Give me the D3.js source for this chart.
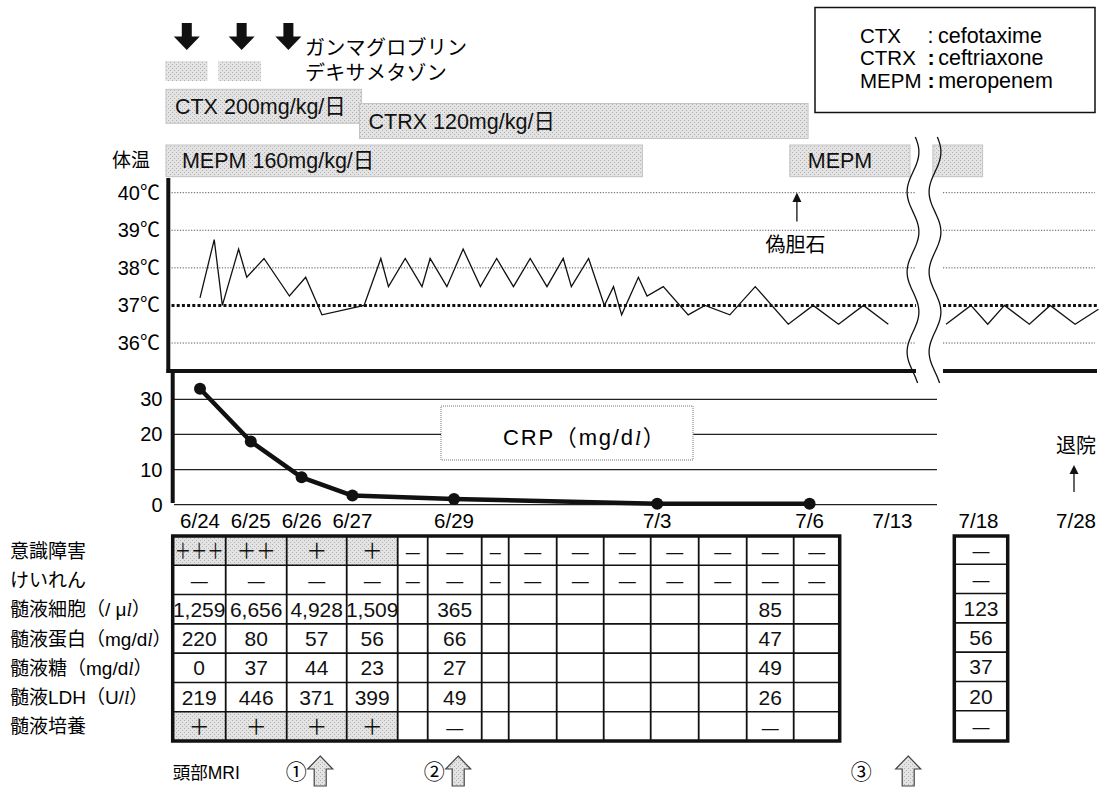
<!DOCTYPE html>
<html><head><meta charset="utf-8">
<script src="https://cdn.jsdelivr.net/npm/d3@7"></script>
<style>
body{margin:0;background:#fff;}
svg{display:block;font-family:'Liberation Sans','Noto Sans CJK JP',sans-serif;}
</style></head><body>
<svg id="c" width="1105" height="790"></svg>
<script>
// ================= DATA =================
const crpDates = ["6/24","6/25","6/26","6/27","6/29","7/3","7/6"];
const crpValues = [33, 18, 7.8, 2.6, 1.6, 0.3, 0.3];
const crpTicks = [0, 10, 20, 30];
const dateLabels = ["6/24","6/25","6/26","6/27","6/29","7/3","7/6","7/13","7/18","7/28"];
const tempTicks = [36, 37, 38, 39, 40];
// body temperature: day offset from 6/24 (fractional) and °C
const tempDays = [0,0.28,0.44,0.76,0.92,1.26,1.76,2.08,2.4,3.23,3.56,3.71,4.04,4.37,4.53,4.86,5.18,5.52,5.84,6.17,6.5,6.83,7.15,7.31,7.65,7.96,8.14,8.3,8.63,8.8,9.12,9.61,9.94,10.43,10.93,11.58,12.07,12.57,13.06,13.55];
const tempValues = [37.2,38.75,37.0,38.5,37.75,38.25,37.25,37.75,36.75,37.0,38.25,37.5,38.25,37.5,38.25,37.5,38.5,37.5,38.25,37.5,38.25,37.5,38.25,37.5,38.25,37.0,37.5,36.75,37.75,37.25,37.5,36.75,37.0,36.75,37.5,36.5,37.0,36.5,37.0,36.5];
// after the axis break (days from start of the later segment)
const tempDaysLate = [0.06,0.55,0.88,1.21,1.70,2.11,2.60,3.06];
const tempValuesLate = [36.5,37.0,36.5,37.0,36.5,37.0,36.5,36.9];
// treatments (day offsets)
const gammaDays = [-0.26, 0.82, 1.74];
const gammaLabel = "ガンマグロブリン";
const dexaStarts = [-0.69, 0.36];
const dexaEnds = [0.15, 1.2];
const dexaLabel = "デキサメタゾン";
const drugNames = ["CTX 200mg/kg/日", "CTRX 120mg/kg/日", "MEPM 160mg/kg/日", "MEPM"];
const drugLanes = ["CTX", "CTRX", "MEPM", "MEPM"];
const drugStarts = [-0.67, 3.14, -0.67, 11.61];
const drugEnds = [3.18, 11.97, 8.71, 13.98];
const drugLateStart = -0.2, drugLateEnd = 0.78; // MEPM continued after break
const legendAbbr = ["CTX", "CTRX", "MEPM"];
const legendName = ["cefotaxime", "ceftriaxone", "meropenem"];
const pseudoLithDay = 11.75;
const pseudoLithLabel = "偽胆石";
const dischargeDate = "7/28";
const dischargeLabel = "退院";
// table
const tableDates = ["6/24","6/25","6/26","6/27","6/28","6/29","6/30","7/1","7/2","7/3","7/4","7/5","7/6","7/7"];
const rowLabels = ["意識障害","けいれん","髄液細胞（/ μl）","髄液蛋白（mg/dl）","髄液糖（mg/dl）","髄液LDH（U/l）","髄液培養"];
const consciousness = ["+++","++","+","+","-","-","-","-","-","-","-","-","-","-"];
const convulsion = ["-","-","-","-","-","-","-","-","-","-","-","-","-","-"];
const csfCells = ["1,259","6,656","4,928","1,509","","365","","","","","","","85",""];
const csfProtein = ["220","80","57","56","","66","","","","","","","47",""];
const csfGlucose = ["0","37","44","23","","27","","","","","","","49",""];
const csfLDH = ["219","446","371","399","","49","","","","","","","26",""];
const csfCulture = ["+","+","+","+","","-","","","","","","","-",""];
const lateDate = "7/18";
const lateColumn = ["-","-","123","56","37","20","-"];
const mriLabel = "頭部MRI";
const mriMarks = ["①","②","③"];
const mriDates = ["6/26","6/29","7/14"];

// ================= LAYOUT =================
const svg = d3.select("#c");
const defs = svg.append("defs");
const pat = defs.append("pattern").attr("id","tone").attr("width",4).attr("height",4).attr("patternUnits","userSpaceOnUse");
pat.append("rect").attr("width",4).attr("height",4).attr("fill","#e3e3e3");
pat.append("rect").attr("x",0).attr("y",0).attr("width",1).attr("height",1).attr("fill","#b0b0b0");
pat.append("rect").attr("x",2).attr("y",2).attr("width",1).attr("height",1).attr("fill","#b0b0b0");

const parse = d3.timeParse("%Y/%m/%d");
const day0 = parse("2000/6/24");
const dayOf = s => d3.timeDay.count(day0, parse("2000/" + s));

const x = d3.scaleLinear().domain([0, 12]).range([200, 809.6]);
const xLate = d3.scaleLinear().domain([0, 1]).range([943, 993.8]);
const xLabel = d3.scaleLinear().domain([0, 12, 19, 24, 34]).range([200, 809.6, 892.5, 978.5, 1076]);
const yT = d3.scaleLinear().domain([36, 40]).range([343, 192.7]);
const yC = d3.scaleLinear().domain([0, 30]).range([504.7, 399.3]);

const BREAK_L = 916, BREAK_R = 943;

function richText(sel, str){
  const parts = str.split(/(l(?=）))/);
  parts.forEach(p => {
    if (p === "l") sel.append("tspan").attr("font-family","'Liberation Serif',serif").attr("font-style","italic").text("l");
    else if (p) sel.append("tspan").text(p);
  });
}

// ---------- top: gamma globulin arrows & dexamethasone ----------
const gTop = svg.append("g");
gTop.selectAll("path.gg").data(gammaDays).join("path")
  .attr("d", d => { const c = x(d); return `M${c-5},23 L${c+5},23 L${c+5},36.5 L${c+13},36.5 L${c},50 L${c-13},36.5 L${c-5},36.5 Z`; })
  .attr("fill", "#111");
gTop.append("text").attr("x", 305).attr("y", 55).attr("font-size", 20).attr("letter-spacing", 0.3).text(gammaLabel);
gTop.selectAll("rect.dx").data(dexaStarts).join("rect")
  .attr("x", d => x(d)).attr("width", (d,i) => x(dexaEnds[i]) - x(d))
  .attr("y", 61).attr("height", 20).attr("fill", "url(#tone)");
gTop.append("text").attr("x", 305).attr("y", 80).attr("font-size", 20).attr("letter-spacing", 0.3).text(dexaLabel);

// ---------- antibiotic bars ----------
const laneY = {CTX: [89.3, 34], CTRX: [103.5, 35], MEPM: [145, 31.7]};
const labelDx = [9, 9, 16, 18];
const labelBase = {CTX: 114, CTRX: 129, MEPM: 168};
const gDrug = svg.append("g");
drugNames.forEach((nm, i) => {
  const lane = drugLanes[i];
  gDrug.append("rect")
    .attr("x", x(drugStarts[i])).attr("width", Math.min(x(drugEnds[i]), 910) - x(drugStarts[i]))
    .attr("y", laneY[lane][0]).attr("height", laneY[lane][1])
    .attr("fill", "url(#tone)").attr("stroke", "#c4c4c4").attr("stroke-width", 1);
  gDrug.append("text").attr("x", x(drugStarts[i]) + labelDx[i]).attr("y", labelBase[lane])
    .attr("font-size", 21.5).attr("fill", "#111").text(nm);
});
gDrug.append("rect")
  .attr("x", xLate(drugLateStart)).attr("width", xLate(drugLateEnd) - xLate(drugLateStart))
  .attr("y", laneY.MEPM[0]).attr("height", laneY.MEPM[1])
  .attr("fill", "url(#tone)").attr("stroke", "#c4c4c4").attr("stroke-width", 1);

// ---------- legend box ----------
const gLeg = svg.append("g");
gLeg.append("rect").attr("x", 815).attr("y", 7.5).attr("width", 280).attr("height", 105)
  .attr("fill", "#fff").attr("stroke", "#111").attr("stroke-width", 1.5);
legendAbbr.forEach((a, i) => {
  const yb = 43 + i * 22.3;
  gLeg.append("text").attr("x", 860).attr("y", yb).attr("font-size", 20.5).text(a);
  const t = gLeg.append("text").attr("x", 927.5).attr("y", yb).attr("font-size", 21.5);
  t.append("tspan").attr("font-weight", i === 0 ? "normal" : "bold").text(":");
  t.append("tspan").attr("dx", i === 0 ? 4.5 : 3.5).text(legendName[i]);
});

// ---------- temperature panel ----------
const gT = svg.append("g");
gT.append("text").attr("x", 112).attr("y", 167).attr("font-size", 19).text("体温");
tempTicks.forEach(t => {
  const y = yT(t);
  const segs = [[171.5, BREAK_L], [BREAK_R, t === 37 ? 1098 : 1095]];
  segs.forEach(s => {
    gT.append("line").attr("x1", s[0]).attr("x2", s[1]).attr("y1", y).attr("y2", y)
      .attr("stroke", t === 37 ? "#111" : "#555")
      .attr("stroke-width", t === 37 ? 3 : 1)
      .attr("stroke-dasharray", t === 37 ? "3,2.2" : "1.2,1.6");
  });
  gT.append("text").attr("x", 160).attr("y", y + 7).attr("text-anchor", "end").attr("font-size", 20).text(t + "℃");
});
const tLine = d3.line().x(d => x(d[0])).y(d => yT(d[1]));
gT.append("path").datum(tempDays.map((d, i) => [d, tempValues[i]]))
  .attr("d", tLine).attr("fill", "none").attr("stroke", "#111").attr("stroke-width", 1.3);
const tLineLate = d3.line().x(d => xLate(d[0])).y(d => yT(d[1]));
gT.append("path").datum(tempDaysLate.map((d, i) => [d, tempValuesLate[i]]))
  .attr("d", tLineLate).attr("fill", "none").attr("stroke", "#111").attr("stroke-width", 1.3);
gT.append("line").attr("x1", 168.3).attr("x2", 168.3).attr("y1", 178).attr("y2", 373).attr("stroke", "#111").attr("stroke-width", 4);
gT.append("line").attr("x1", 166.5).attr("x2", BREAK_L).attr("y1", 371).attr("y2", 371).attr("stroke", "#111").attr("stroke-width", 4);
gT.append("line").attr("x1", BREAK_R).attr("x2", 1097).attr("y1", 371).attr("y2", 371).attr("stroke", "#111").attr("stroke-width", 4);

const plx = x(pseudoLithDay);
gT.append("path").attr("d", `M${plx},192.5 L${plx+4.5},202 L${plx-4.5},202 Z`).attr("fill", "#111");
gT.append("line").attr("x1", plx).attr("x2", plx).attr("y1", 200).attr("y2", 221.5).attr("stroke", "#111").attr("stroke-width", 1.3);
gT.append("text").attr("x", plx - 1.5).attr("y", 251.5).attr("text-anchor", "middle").attr("font-size", 20).text(pseudoLithLabel);

const wave = d3.line().curve(d3.curveBasis);
[913, 935].forEach(cx => {
  const pts = d3.range(0, 61).map(k => { const y = 137 + k * 4.1; return [cx + 6 * Math.sin((y - 137) / 80 * 2 * Math.PI + 0.4), y]; });
  svg.append("path").attr("d", wave(pts)).attr("fill", "none").attr("stroke", "#111").attr("stroke-width", 1.3);
});

// ---------- CRP panel ----------
const gC = svg.append("g");
crpTicks.forEach(t => {
  gC.append("line").attr("x1", 174).attr("x2", 937).attr("y1", yC(t)).attr("y2", yC(t)).attr("stroke", "#222").attr("stroke-width", 1.3);
  gC.append("text").attr("x", 162.5).attr("y", yC(t) + 7).attr("text-anchor", "end").attr("font-size", 20).text(t);
});
gC.append("line").attr("x1", 172.7).attr("x2", 172.7).attr("y1", 370).attr("y2", 503).attr("stroke", "#111").attr("stroke-width", 4);
gC.append("rect").attr("x", 441).attr("y", 406).attr("width", 252).attr("height", 54)
  .attr("fill", "#fff").attr("stroke", "#777").attr("stroke-width", 1).attr("stroke-dasharray", "1,1");
richText(gC.append("text").attr("x", 503).attr("y", 445).attr("font-size", 22).attr("letter-spacing", 1.8), "CRP（mg/dl）");
const crpPts = crpDates.map((d, i) => [dayOf(d), crpValues[i]]);
gC.append("path").datum(crpPts)
  .attr("d", d3.line().x(d => x(d[0])).y(d => yC(d[1])))
  .attr("fill", "none").attr("stroke", "#111").attr("stroke-width", 4.5).attr("stroke-linejoin", "round");
gC.selectAll("circle").data(crpPts).join("circle")
  .attr("cx", d => x(d[0])).attr("cy", d => yC(d[1])).attr("r", 6).attr("fill", "#111");
gC.selectAll("text.dl").data(dateLabels).join("text").attr("class", "dl")
  .attr("x", d => xLabel(dayOf(d))).attr("y", 528).attr("text-anchor", "middle").attr("font-size", 20.5).text(d => d);
const dcx = xLabel(dayOf(dischargeDate));
gC.append("text").attr("x", dcx).attr("y", 453).attr("text-anchor", "middle").attr("font-size", 20).text(dischargeLabel);
gC.append("path").attr("d", `M${dcx-2},465 L${dcx+2.5},474 L${dcx-6.5},474 Z`).attr("fill", "#111");
gC.append("line").attr("x1", dcx-2).attr("x2", dcx-2).attr("y1", 472).attr("y2", 492).attr("stroke", "#111").attr("stroke-width", 1.3);

// ---------- table ----------
const gTab = svg.append("g");
const colW = [53, 61, 60, 51, 30, 54, 27, 48, 47, 47, 48, 48, 47, 46];
const cum = [0]; colW.forEach(w => cum.push(cum[cum.length - 1] + w));
const tx = d3.scaleLinear().domain([0, cum[cum.length - 1]]).range([172.7, 839.7]);
const rowBand = d3.scaleBand().domain(rowLabels).range([536, 741]);
const rows = [consciousness, convulsion, csfCells, csfProtein, csfGlucose, csfLDH, csfCulture];
const colIndex = d => tableDates.indexOf(d);
const colCenter = i => (tx(cum[i]) + tx(cum[i + 1])) / 2;

rowLabels.forEach((lab, r) => {
  richText(gTab.append("text").attr("x", 10).attr("y", rowBand(lab) + rowBand.bandwidth() / 2 + 7).attr("font-size", 19), lab);
});
function cellText(g, val, cx, cy, w){
  if (!val) return;
  let t;
  if (val === "-") {
    t = g.append("text").text("—").attr("font-size", 19);
    t.attr("textLength", Math.min(17, w - 16)).attr("lengthAdjust", "spacingAndGlyphs");
  } else if (val.indexOf("+") >= 0) {
    t = g.append("text").text(val.replace(/\+/g, "＋")).attr("font-size", 21).attr("font-family", "'Noto Sans CJK JP',sans-serif");
    if (val.length > 1) t.attr("textLength", val.length === 3 ? 49 : 39).attr("lengthAdjust", "spacingAndGlyphs");
  } else {
    t = g.append("text").text(val).attr("font-size", 21);
  }
  t.attr("x", cx).attr("y", cy + 7.5).attr("text-anchor", "middle").attr("fill", "#111");
}
rows.forEach((vals, r) => {
  const y0 = rowBand(rowLabels[r]);
  vals.forEach((v, c) => {
    if (v.indexOf("+") >= 0) {
      gTab.append("rect").attr("x", tx(cum[c])).attr("y", y0).attr("width", tx(cum[c + 1]) - tx(cum[c])).attr("height", rowBand.bandwidth()).attr("fill", "url(#tone)");
    }
  });
});
cum.slice(1, -1).forEach(c => gTab.append("line").attr("x1", tx(c)).attr("x2", tx(c)).attr("y1", 536).attr("y2", 741).attr("stroke", "#111").attr("stroke-width", 1.8));
rowLabels.slice(1).forEach(l => gTab.append("line").attr("x1", 172.7).attr("x2", 839.7).attr("y1", rowBand(l)).attr("y2", rowBand(l)).attr("stroke", "#111").attr("stroke-width", 1.6));
rows.forEach((vals, r) => {
  const cy = rowBand(rowLabels[r]) + rowBand.bandwidth() / 2;
  vals.forEach((v, c) => cellText(gTab, v, colCenter(c), cy, colW[c]));
});
gTab.append("rect").attr("x", 172.7).attr("y", 536).attr("width", 839.7 - 172.7).attr("height", 205)
  .attr("fill", "none").attr("stroke", "#111").attr("stroke-width", 3.5);
const lcx = xLabel(dayOf(lateDate)) + 2.5, lw = 53.4;
rowLabels.slice(1).forEach(l => gTab.append("line").attr("x1", lcx - lw/2).attr("x2", lcx + lw/2).attr("y1", rowBand(l) - 1).attr("y2", rowBand(l) - 1).attr("stroke", "#111").attr("stroke-width", 1.6));
lateColumn.forEach((v, r) => cellText(gTab, v, lcx, rowBand(rowLabels[r]) + rowBand.bandwidth() / 2 - 1, lw));
gTab.append("rect").attr("x", lcx - lw/2).attr("y", 536).attr("width", lw).attr("height", 205)
  .attr("fill", "none").attr("stroke", "#111").attr("stroke-width", 3.5);

// ---------- head MRI ----------
const gM = svg.append("g");
gM.append("text").attr("x", 172.7).attr("y", 779).attr("font-size", 17.5).text(mriLabel);
const numGap = [24, 24, 47];
mriDates.forEach((d, i) => {
  const ci = colIndex(d);
  const ax = ci >= 0 ? colCenter(ci) + 3.5 : xLabel(dayOf(d)) - 1.5;
  gM.append("path")
    .attr("d", `M${ax},756 L${ax+12.5},769 L${ax+6},769 L${ax+6},786 L${ax-6},786 L${ax-6},769 L${ax-12.5},769 Z`)
    .attr("fill", "url(#tone)").attr("stroke", "#444").attr("stroke-width", 1.2);
  gM.append("text").attr("x", ax - numGap[i]).attr("y", 779).attr("text-anchor", "middle").attr("font-size", 21)
    .attr("font-family", "'Noto Sans CJK JP',sans-serif").text(mriMarks[i]);
});
</script>
</body></html>
